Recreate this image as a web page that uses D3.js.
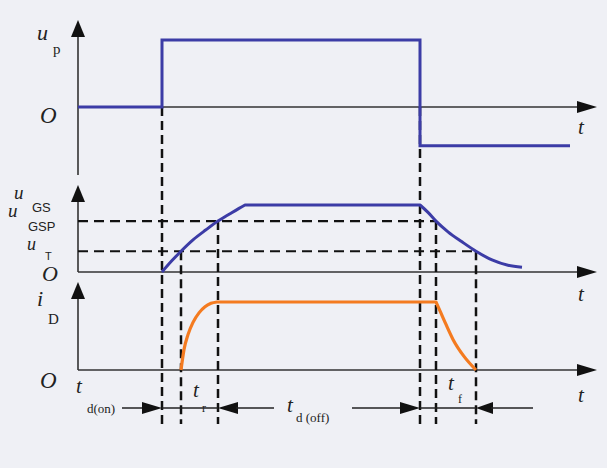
<!DOCTYPE html>
<html>
<head>
<meta charset="utf-8">
<script src="https://cdn.jsdelivr.net/npm/d3@7"></script>
<style>
  body { margin: 0; background: #eff0f5; }
  svg { display: block; }
  text { font-family: "Liberation Serif", "DejaVu Serif", serif; fill: #222; }
</style>
</head>
<body>
<div id="chart"></div>
<script>
// time in arbitrary units, 0 = origin of the three plots
var tMax = 520;

// gate pulse u_p
var upTimes = [0, 84, 84, 342, 342, 492];
var upValues = [0, 0, 1, 1, -0.58, -0.58];

// gate-source voltage u_GS
var gsTimes = [84, 94, 103, 115, 128, 140, 152, 161, 167, 342, 350, 358, 370, 384, 398, 414, 430, 444];
var gsValues = [0, 0.17, 0.31, 0.48, 0.63, 0.76, 0.87, 0.95, 1, 1, 0.89, 0.76, 0.6, 0.45, 0.31, 0.18, 0.1, 0.07];

// drain current i_D
var idTimes = [103, 106, 110, 115, 121, 127, 133, 139, 358, 362, 368, 375, 386, 398];
var idValues = [0, 0.3, 0.52, 0.7, 0.84, 0.93, 0.98, 1, 1, 0.87, 0.67, 0.45, 0.2, 0];

// threshold levels on the u_GS plot
var levelNames = ["GSP", "T"];
var levelValues = [0.76, 0.31];
var levelEnds = [358, 398];

// switching instants (dashed verticals) and where they start
var markTimes = [84, 103, 140, 342, 358, 398];
var markFrom = ["up", "T", "GSP", "up", "GSP", "T"];

var width = 607;
var height = 468;

var svg = d3.select("#chart").append("svg")
    .attr("width", width)
    .attr("height", height);

var x = d3.scaleLinear().domain([0, tMax]).range([78, 598]);
var yUp = d3.scaleLinear().domain([0, 1]).range([107, 40]);
var yGs = d3.scaleLinear().domain([0, 1]).range([272, 205]);
var yId = d3.scaleLinear().domain([0, 1]).range([370, 302]);

var axisColor = "#333";
var blue = "#3c3ca6";
var orange = "#f47b20";

function arrowUp(px, py) {
    svg.append("path")
        .attr("d", "M" + px + "," + py + "L" + (px - 7) + "," + (py + 17) + "L" + (px + 7) + "," + (py + 17) + "Z")
        .attr("fill", "#111");
}
function arrowRight(px, py, len, half) {
    svg.append("path")
        .attr("d", "M" + px + "," + py + "L" + (px - len) + "," + (py - half) + "L" + (px - len) + "," + (py + half) + "Z")
        .attr("fill", "#111");
}
function arrowLeft(px, py, len, half) {
    svg.append("path")
        .attr("d", "M" + px + "," + py + "L" + (px + len) + "," + (py - half) + "L" + (px + len) + "," + (py + half) + "Z")
        .attr("fill", "#111");
}
function line(x1, y1, x2, y2, color, w, dash) {
    var l = svg.append("line")
        .attr("x1", x1).attr("y1", y1)
        .attr("x2", x2).attr("y2", y2)
        .attr("stroke", color)
        .attr("stroke-width", w);
    if (dash) l.attr("stroke-dasharray", dash);
    return l;
}

// axes of the three panels
var panels = [
    {y: yUp, top: 20, bottom: 175},
    {y: yGs, top: 185, bottom: 272},
    {y: yId, top: 282, bottom: 370}
];
panels.forEach(function(p) {
    line(x(0), p.top + 10, x(0), p.bottom, axisColor, 1.6);
    arrowUp(x(0), p.top);
    line(x(0), p.y(0), x(tMax) - 10, p.y(0), axisColor, 1.6);
    arrowRight(x(tMax) - 1, p.y(0), 20, 6);
});

// dashed threshold levels
levelValues.forEach(function(v, i) {
    line(x(0), yGs(v), x(levelEnds[i]), yGs(v), "#111", 2.2, "10,6");
});

// dashed switching instants
markTimes.forEach(function(t, i) {
    var from = markFrom[i] === "up" ? yUp(0) : yGs(levelValues[levelNames.indexOf(markFrom[i])]);
    line(x(t), from, x(t), 424, "#111", 2.5, "9,5");
});

// waveforms
var stepLine = d3.line().x(function(d) { return x(d[0]); }).y(function(d) { return yUp(d[1]); });
svg.append("path")
    .datum(d3.zip(upTimes, upValues))
    .attr("d", stepLine)
    .attr("fill", "none")
    .attr("stroke", blue)
    .attr("stroke-width", 3);

// split a waveform into rise / flat / fall pieces so each curve keeps its corner
function pieces(times, values) {
    var pts = d3.zip(times, values), out = [], cur = [pts[0]];
    for (var i = 1; i < pts.length; i++) {
        var flat = pts[i][1] === pts[i - 1][1];
        var curFlat = cur.length > 1 && cur[cur.length - 1][1] === cur[cur.length - 2][1];
        if (cur.length > 1 && flat !== curFlat) {
            out.push(cur);
            cur = [pts[i - 1]];
        }
        cur.push(pts[i]);
    }
    out.push(cur);
    return out;
}
function drawWave(times, values, yScale, color, w) {
    var gen = d3.line().x(function(d) { return x(d[0]); }).y(function(d) { return yScale(d[1]); }).curve(d3.curveMonotoneX);
    var path = pieces(times, values).map(function(p) { return gen(p); })
        .map(function(d, i) { return i ? d.replace(/^M/, "L") : d; }).join("");
    svg.append("path")
        .attr("d", path)
        .attr("fill", "none")
        .attr("stroke", color)
        .attr("stroke-width", w)
        .attr("stroke-linejoin", "round");
}
drawWave(gsTimes, gsValues, yGs, blue, 3);
drawWave(idTimes, idValues, yId, orange, 3.2);

// time interval row
var rowY = 408;
line(122, rowY, x(84) - 18, rowY, "#222", 1.5);
arrowRight(x(84), rowY, 20, 6);
line(x(84), rowY, x(140), rowY, "#222", 1.5);
arrowLeft(x(140), rowY, 20, 6);
line(x(140) + 18, rowY, 274, rowY, "#222", 1.5);
line(352, rowY, x(342) - 18, rowY, "#222", 1.5);
arrowRight(x(342), rowY, 20, 6);
line(x(342), rowY, x(398), rowY, "#222", 1.5);
arrowLeft(x(398), rowY, 17, 6);
line(x(398) + 15, rowY, 533, rowY, "#222", 1.5);

// labels
function label(tx, ty, str, size, italic, sans) {
    svg.append("text")
        .attr("x", tx).attr("y", ty)
        .attr("font-size", size)
        .attr("font-style", italic ? "italic" : "normal")
        .style("font-family", sans ? "'Liberation Sans', Arial, sans-serif" : null)
        .text(str);
}

label(37, 40, "u", 22, true);
label(53, 54, "p", 15, false);
label(40, 123, "O", 23, true);
label(578, 134, "t", 21, true);

label(14, 199, "u", 19, true);
label(32, 212, "GS", 13, false, true);
label(8, 217, "u", 19, true);
label(28, 231, "GSP", 13, false, true);
label(27, 250, "u", 18, true);
label(45, 260, "T", 11, false, true);
label(42, 281, "O", 22, true);
label(578, 301, "t", 21, true);

label(37, 306, "i", 22, true);
label(48, 324, "D", 15, false);
label(40, 388, "O", 23, true);
label(578, 402, "t", 21, true);

label(76, 393, "t", 21, true);
label(87, 413, "d(on)", 13, false);
label(193, 397, "t", 21, true);
label(202, 412, "r", 12, false);
label(287, 412, "t", 21, true);
label(296, 422, "d (off)", 13, false);
label(448, 390, "t", 21, true);
label(458, 403, "f", 12, false);
</script>
</body>
</html>
